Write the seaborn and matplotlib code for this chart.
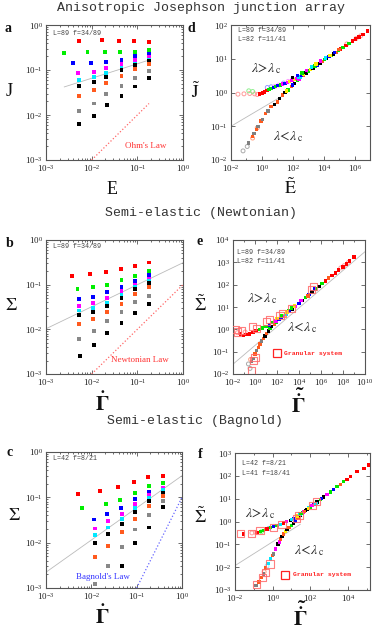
import numpy as np
import pandas as pd
import matplotlib
matplotlib.use('Agg')
import matplotlib.pyplot as plt
import seaborn as sns
from matplotlib.ticker import FixedLocator, LogFormatterSciNotation, LogLocator, NullFormatter

sns.set_style('ticks')
plt.rcParams['font.family'] = ['Liberation Serif', 'DejaVu Serif']
plt.rcParams['mathtext.fontset'] = 'stix'

# ---------------- data: panels a, b, c (9 series each) ----------------
series_colors = ['#ff0000', '#00ee00', '#0000ff', '#ff00ff', '#00e8ff',
                 '#000000', '#ff5a1e', '#888888', '#000000']

a_E = [[0.0054, 0.0166, 0.039, 0.085, 0.18],
       [0.0025, 0.0081, 0.0196, 0.042, 0.088, 0.18],
       [0.0039, 0.0097, 0.021, 0.045, 0.088, 0.18],
       [0.0051, 0.011, 0.021, 0.045, 0.088, 0.18],
       [0.0054, 0.011, 0.021, 0.045, 0.088, 0.18],
       [0.0054, 0.011, 0.021, 0.045, 0.088, 0.18],
       [0.0054, 0.011, 0.021, 0.045, 0.088, 0.18],
       [0.0054, 0.011, 0.021, 0.045, 0.088, 0.18],
       [0.0054, 0.011, 0.022, 0.045, 0.088, 0.18]]
a_J = [[0.45, 0.46, 0.45, 0.45, 0.42],
       [0.235, 0.25, 0.25, 0.256, 0.25, 0.28],
       [0.14, 0.142, 0.15, 0.168, 0.206, 0.224],
       [0.086, 0.09, 0.109, 0.133, 0.168, 0.196],
       [0.061, 0.070, 0.0875, 0.112, 0.136, 0.163],
       [0.044, 0.055, 0.071, 0.1, 0.129, 0.157],
       [0.027, 0.036, 0.052, 0.075, 0.105, 0.133],
       [0.0122, 0.018, 0.029, 0.045, 0.068, 0.097],
       [0.00625, 0.0095, 0.0163, 0.027, 0.043, 0.067]]

b_G = [[0.0037, 0.0093, 0.0207, 0.0436, 0.087, 0.176],
       [0.0049, 0.0106, 0.0214, 0.045, 0.087, 0.176],
       [0.0052, 0.0109, 0.022, 0.045, 0.087, 0.176],
       [0.0052, 0.0109, 0.022, 0.045, 0.087, 0.176],
       [0.0052, 0.0109, 0.022, 0.045, 0.087, 0.176],
       [0.0052, 0.0109, 0.022, 0.045, 0.087, 0.176],
       [0.0052, 0.0109, 0.022, 0.045, 0.087, 0.176],
       [0.0054, 0.0113, 0.022, 0.045, 0.087, 0.176],
       [0.0056, 0.0113, 0.022, 0.045, 0.087, 0.176]]
b_S = [[0.158, 0.173, 0.188, 0.227, 0.264, 0.313],
       [0.080, 0.087, 0.1, 0.129, 0.153, 0.205],
       [0.0489, 0.054, 0.0675, 0.0887, 0.123, 0.161],
       [0.034, 0.0385, 0.0497, 0.071, 0.098, 0.136],
       [0.0264, 0.0303, 0.039, 0.06, 0.09, 0.123],
       [0.0205, 0.0239, 0.033, 0.0506, 0.080, 0.109],
       [0.0129, 0.0167, 0.0243, 0.0378, 0.062, 0.087],
       [0.006, 0.0092, 0.0153, 0.0247, 0.0405, 0.057],
       [0.00255, 0.0044, 0.00815, 0.0141, 0.0227, 0.0378]]

c_G = [[0.0051, 0.0158, 0.0386, 0.087, 0.182, 0.376],
       [0.0061, 0.0207, 0.0436, 0.09, 0.185, 0.376],
       [0.0115, 0.022, 0.046, 0.09, 0.185, 0.376],
       [0.0119, 0.0235, 0.047, 0.093, 0.185, 0.376],
       [0.0119, 0.0235, 0.047, 0.093, 0.185, 0.376],
       [0.0123, 0.0235, 0.047, 0.093, 0.185, 0.376],
       [0.0123, 0.0235, 0.047, 0.093, 0.185, 0.376],
       [0.0119, 0.0235, 0.047, 0.093, 0.185, 0.376],
       [0.047, 0.093, 0.185, 0.376]]
c_S = [[0.1186, 0.138, 0.167, 0.219, 0.278, 0.298],
       [0.057, 0.0699, 0.087, 0.123, 0.179, 0.205],
       [0.0324, 0.0426, 0.057, 0.090, 0.134, 0.164],
       [0.0205, 0.0298, 0.0419, 0.071, 0.113, 0.158],
       [0.0146, 0.0216, 0.033, 0.059, 0.095, 0.146],
       [0.01, 0.0158, 0.0255, 0.048, 0.084, 0.127],
       [0.0048, 0.0084, 0.0173, 0.0336, 0.064, 0.107],
       [0.0012, 0.003, 0.008, 0.0195, 0.0405, 0.083],
       [0.003, 0.01, 0.0216, 0.06]]

# reference lines (end points)
a_fit_x, a_fit_y = [0.0025, 0.18], [0.042, 0.166]
ohm_x, ohm_y = [0.01, 0.18], [0.001, 0.018]
b_fit_x, b_fit_y = [1e-3, 1.0], [0.0103, 0.31]
newton_x, newton_y = [0.01, 1.0], [0.001, 0.1]
c_fit_x, c_fit_y = [1e-3, 1.0], [0.00223, 0.30]
bagnold_x, bagnold_y = [0.1, 1.0], [0.001, 0.1]
d_fit_x, d_fit_y = [0.01, 20], [0.1, 0.78]
e_fit_x, e_fit_y = [0.01, 1e10], [0.0275, 3000]
f_fit_x, f_fit_y = [0.01, 30], [0.0117, 0.76]

# ---------------- data: collapse panels (log10 values) ----------------
pal = {'r': '#ff0000', 'g': '#00e600', 'b': '#0000ff', 'm': '#ff00ff', 'c': '#00e8ff',
       'k': '#000000', 'o': '#ff5a1e', 'y': '#ffee00', 'gr': '#808080',
       'pr': '#ff9a9a', 'pg': '#8fef8f', 'pb': '#9a9aff', 'pm': '#ff9aff',
       'pgr': '#aaaaaa', 'po': '#ffa080', 'pc': '#90f0ff'}

d_up_lx = [-0.14, 0.05, 0.18, 0.32, 0.45, 0.6, 0.75, 0.9, 1.05, 1.2, 1.35, 1.5, 1.65, 1.8, 1.95,
           2.1, 2.25, 2.4, 2.55, 2.7, 2.85, 3.0, 3.15, 3.3, 3.45, 3.6, 3.75, 3.9, 4.05, 4.2,
           4.35, 4.5, 4.65, 4.8, 4.95, 5.1, 5.25, 5.45, 5.65, 5.85, 6.05, 6.3, 6.55, 6.85,
           2.0, 2.3, 2.6, 2.9, 3.2, 3.5, 3.8, 4.1, 4.4, 4.7, 5.0]
d_up_ly = [-0.05, -0.02, 0.02, 0.06, 0.09, 0.11, 0.14, 0.17, 0.2, 0.22, 0.25, 0.27, 0.3, 0.32, 0.35,
           0.38, 0.42, 0.46, 0.5, 0.54, 0.6, 0.64, 0.68, 0.73, 0.78, 0.82, 0.86, 0.92, 0.97, 1.01,
           1.06, 1.1, 1.14, 1.19, 1.24, 1.29, 1.34, 1.4, 1.46, 1.52, 1.58, 1.64, 1.71, 1.82,
           0.45, 0.5, 0.58, 0.66, 0.75, 0.84, 0.93, 1.02, 1.1, 1.18, 1.27]
d_up_c = ['r', 'r', 'r', 'r', 'g', 'g', 'b', 'g', 'b', 'g', 'm', 'b', 'm', 'y', 'm',
          'y', 'm', 'c', 'b', 'y', 'k', 'g', 'y', 'k', 'g', 'b', 'k', 'o', 'g', 'k',
          'b', 'g', 'k', 'o', 'g', 'r', 'g', 'r', 'g', 'r', 'r', 'r', 'r', 'r',
          'k', 'b', 'g', 'm', 'c', 'y', 'm', 'c', 'y', 'b', 'o']
d_lo_lx = [-0.85, -0.6, -0.5, -0.35, -0.25, -0.05, 0.05, 0.25, 0.4, 0.6, 0.8, 1.0, 1.15, 1.35,
           1.5, 1.7, 1.9, 2.1, 2.3, 2.5, 2.7, 2.9, 1.6, 2.0, 2.4]
d_lo_ly = [-1.5, -1.3, -1.22, -1.1, -1.0, -0.85, -0.8, -0.63, -0.55, -0.42, -0.35, -0.28, -0.18,
           -0.08, 0.0, 0.08, 0.18, 0.27, 0.36, 0.45, 0.5, 0.56, 0.05, 0.22, 0.4]
d_lo_c = ['gr', 'o', 'gr', 'o', 'gr', 'o', 'gr', 'o', 'gr', 'o', 'k', 'o', 'k', 'o',
          'k', 'g', 'o', 'k', 'g', 'c', 'o', 'k', 'y', 'b', 'm']
d_op_lx = [-1.55, -1.16, -0.79, -0.47, -0.3, -0.85, -0.6, 0.35, 0.6, 0.85, 1.1, 1.4, 1.7, 2.0,
           -1.22, -0.95, -0.6, -0.3, 5.5, 6.1, 6.4]
d_op_ly = [-0.05, -0.04, -0.03, -0.04, -0.06, 0.05, 0.03, 0.15, 0.17, 0.18, 0.22, 0.28, 0.33, 0.4,
           -1.73, -1.6, -1.35, -1.05, 1.44, 1.6, 1.68]
d_op_c = ['pr', 'pr', 'pr', 'pr', 'pr', 'pg', 'pg', 'pb', 'pb', 'pm', 'pm', 'pb', 'pm', 'pm',
          'pgr', 'pgr', 'po', 'po', 'pr', 'pr', 'pr']

e_up_lx = [-1.3, -1.06, -0.8, -0.5, -0.2, 0.1, 0.4, 0.7, 1.0, 1.3, 1.6, 1.9, 2.2, 2.5, 2.8, 3.1,
           3.4, 3.7, 4.0, 4.3, 4.6, 4.9, 5.2, 5.5, 5.8, 6.1, 6.4, 6.7, 7.0, 7.3, 7.6, 8.0, 8.3,
           8.6, 9.0, 2.0, 2.4, 2.9, 3.3, 3.6, 4.2, 4.8, 5.4]
e_up_ly = [-0.2, -0.27, -0.24, -0.2, -0.13, -0.06, 0.0, 0.06, 0.13, 0.2, 0.3, 0.38, 0.47, 0.57,
           0.68, 0.79, 0.9, 1.03, 1.16, 1.29, 1.42, 1.55, 1.67, 1.8, 1.92, 2.05, 2.17, 2.29, 2.41,
           2.52, 2.65, 2.8, 2.93, 3.06, 3.24, 0.48, 0.6, 0.78, 0.95, 1.05, 1.3, 1.5, 1.8]
e_up_c = ['r', 'r', 'r', 'r', 'r', 'r', 'g', 'g', 'g', 'b', 'g', 'm', 'b', 'm', 'c', 'b',
          'k', 'm', 'b', 'k', 'g', 'b', 'k', 'g', 'k', 'g', 'r', 'o', 'r', 'r', 'r', 'r', 'r',
          'r', 'r', 'y', 'g', 'y', 'g', 'y', 'm', 'o', 'b']
e_lo_lx = [-0.3, -0.15, 0.0, 0.15, 0.3, 0.45, 0.61, 0.76, 0.91, 1.06, 1.21, 1.36, 1.52, 1.75,
           1.97, 2.2, 2.42, 2.65, 2.88, 3.1, 3.33]
e_lo_ly = [-1.45, -1.3, -1.11, -0.95, -0.81, -0.66, -0.52, -0.41, -0.3, -0.18, -0.07, 0.03, 0.12,
           0.22, 0.33, 0.43, 0.52, 0.63, 0.74, 0.84, 0.93]
e_lo_c = ['gr', 'gr', 'o', 'gr', 'o', 'o', 'gr', 'o', 'k', 'o', 'k', 'g', 'k', 'o',
          'g', 'k', 'b', 'y', 'k', 'g', 'o']
e_op_lx = [-0.45, -0.6, -0.4, -1.6, -0.9, 7.8, 8.1, 8.5]
e_op_ly = [-1.75, -1.55, -1.35, -0.15, -0.12, 2.75, 2.85, 3.0]
e_op_c = ['pgr', 'pgr', 'po', 'pr', 'pr', 'pr', 'pr', 'pr']
e_gr_lx = [-1.82, -1.55, -1.21, -0.21, 0.1, 1.06, 1.3, 2.27, 2.5, 3.33, 5.1, 5.3, -0.35, 0.0, -0.1]
e_gr_ly = [0.0, -0.12, -0.07, 0.12, 0.05, 0.37, 0.42, 0.62, 0.7, 0.92, 1.8, 1.9, -1.85, -1.26, -1.4]

f_up_lx = [-1.54, -0.83, -0.65, -0.47, -0.3, -0.12, 0.05, 0.23, 0.4, 0.59, 0.75, 0.94, 1.1, 1.3,
           1.45, 1.65, 1.83, 2.01, 2.2, 2.36, 2.55, 2.72, 2.9, 3.07, 3.25, 3.43, 3.6, 3.78, 3.95,
           4.13, 4.49, 4.85, 5.11, 1.0, 1.5, 1.9, 2.3, 2.6, 1.7, 2.1]
f_up_ly = [-0.54, -0.47, -0.44, -0.39, -0.33, -0.27, -0.22, -0.17, -0.12, -0.07, -0.01, 0.05, 0.13,
           0.24, 0.32, 0.41, 0.52, 0.63, 0.74, 0.85, 0.97, 1.08, 1.19, 1.3, 1.41, 1.52, 1.63, 1.74,
           1.85, 1.96, 2.18, 2.33, 2.47, 0.1, 0.35, 0.58, 0.8, 1.0, 0.45, 0.7]
f_up_c = ['r', 'r', 'g', 'g', 'r', 'g', 'b', 'g', 'c', 'r', 'm', 'k', 'b', 'y', 'c', 'm', 'k',
          'g', 'b', 'k', 'g', 'k', 'm', 'g', 'b', 'g', 'o', 'g', 'r', 'r', 'r', 'r', 'r',
          'c', 'g', 'y', 'c', 'b', 'o', 'm']
f_lo_lx = [-0.88, -0.72, -0.6, -0.5, -0.39, -0.25, -0.12, 0.0, 0.06, 0.14, 0.29, 0.35, 0.41, 0.5,
           0.59, 0.68, 0.77, 0.88, 0.99, 1.1, 1.21, 1.35, 1.47, 1.6, 1.74, 1.9]
f_lo_ly = [-2.81, -2.65, -2.45, -2.3, -2.04, -1.85, -1.64, -1.5, -1.42, -1.2, -0.98, -0.9, -0.76,
           -0.65, -0.54, -0.45, -0.35, -0.26, -0.17, -0.08, 0.02, 0.15, 0.27, 0.38, 0.49, 0.6]
f_lo_c = ['gr', 'o', 'o', 'gr', 'o', 'c', 'c', 'o', 'gr', 'm', 'k', 'm', 'o', 'k', 'o', 'y',
          'k', 'o', 'g', 'k', 'b', 'o', 'k', 'g', 'k', 'c']
f_op_lx = [-1.1, -0.9, -0.6, -0.2, -0.45, -0.3]
f_op_ly = [-0.5, -0.48, -0.45, -0.3, -2.2, -1.95]
f_op_c = ['pr', 'pr', 'pg', 'pb', 'po', 'pc']
f_gr_lx = [-1.73, -1.11, -0.67, 0.04, 0.5, 1.25, 1.4, 2.1, 2.35, -0.85, -0.55, -0.40, -0.14]
f_gr_ly = [-0.54, -0.54, -0.38, -0.27, -0.15, 0.15, 0.25, 0.71, 0.89, -2.74, -2.45, -2.23, -1.86]

# ---------------- figure ----------------
W, H = 374, 634
fig = plt.figure(figsize=(W / 100, H / 100), dpi=100)
fig.patch.set_facecolor('white')


def add_ax(l, t, r, b):
    return fig.add_axes([l / W, 1 - b / H, (r - l) / W, (b - t) / H])


def ftext(px, py, s, **kw):
    fig.text(px / W, 1 - py / H, s, **kw)


def style(ax, xlim, ylim, xmaj, ymaj, xmin=None, ymin=None):
    ax.set_xlim(xlim)
    ax.set_ylim(ylim)
    ax.xaxis.set_major_locator(FixedLocator(xmaj))
    ax.yaxis.set_major_locator(FixedLocator(ymaj))
    ax.xaxis.set_major_formatter(LogFormatterSciNotation())
    ax.yaxis.set_major_formatter(LogFormatterSciNotation())
    if xmin is None:
        ax.xaxis.set_minor_locator(LogLocator(base=10, subs=np.arange(2, 10), numticks=50))
    else:
        ax.xaxis.set_minor_locator(FixedLocator(xmin))
    if ymin is None:
        ax.yaxis.set_minor_locator(LogLocator(base=10, subs=np.arange(2, 10), numticks=50))
    else:
        ax.yaxis.set_minor_locator(FixedLocator(ymin))
    ax.xaxis.set_minor_formatter(NullFormatter())
    ax.yaxis.set_minor_formatter(NullFormatter())
    ax.tick_params(which='both', direction='in', top=True, right=True, colors='#555555',
                   labelcolor='#222222', labelsize=6.5, width=0.6)
    ax.tick_params(which='major', length=3.0, pad=2.5)
    ax.tick_params(which='minor', length=1.5)
    for sp in ax.spines.values():
        sp.set_color('#555555')
        sp.set_linewidth(0.8)
    ax.set_xlabel('')
    ax.set_ylabel('')


def series_scatter(ax, xs, ys):
    rows = []
    for i, (xx, yy) in enumerate(zip(xs, ys)):
        for x, y in zip(xx, yy):
            rows.append((x, y, f's{i}'))
    df = pd.DataFrame(rows, columns=['x', 'y', 's'])
    sns.scatterplot(data=df, x='x', y='y', hue='s',
                    palette={f's{i}': c for i, c in enumerate(series_colors)},
                    marker='s', s=8, linewidth=0, legend=False, ax=ax, zorder=3)


def cscatter(ax, lx, ly, cs, marker='s', s=6.0, hollow=False, zorder=3, lw=0.0, alpha=1.0):
    df = pd.DataFrame({'x': 10 ** np.array(lx, float), 'y': 10 ** np.array(ly, float), 'c': cs})
    sns.scatterplot(data=df, x='x', y='y', hue='c', palette=pal, marker=marker, s=s,
                    linewidth=lw, legend=False, ax=ax, zorder=zorder, alpha=alpha)
    if hollow:
        coll = ax.collections[-1]
        fc = coll.get_facecolors()
        coll.set_edgecolors(fc)
        coll.set_facecolors('none')
        coll.set_linewidth(0.7)


def granular(ax, lx, ly):
    df = pd.DataFrame({'x': 10 ** np.array(lx, float), 'y': 10 ** np.array(ly, float)})
    sns.scatterplot(data=df, x='x', y='y', marker='s', s=26, ax=ax, zorder=4,
                    facecolor='none', edgecolor='#ff6a6a', linewidth=0.8, alpha=0.85, legend=False)


def refline(ax, x, y, color='#bbbbbb', ls='-', lw=0.6):
    sns.lineplot(x=x, y=y, ax=ax, color=color, linestyle=ls, linewidth=lw,
                 estimator=None, sort=False, zorder=2)


mono = ['Liberation Mono', 'DejaVu Sans Mono']

# titles
ftext(201, 8, 'Anisotropic Josephson junction array', family=mono, size=9.5,
      ha='center', va='center', color='#333333')
ftext(201, 213, 'Semi-elastic (Newtonian)', family=mono, size=9.5,
      ha='center', va='center', color='#333333')
ftext(195, 421, 'Semi-elastic (Bagnold)', family=mono, size=9.5,
      ha='center', va='center', color='#333333')

# ---------- panel a ----------
ax = add_ax(46, 25, 183, 160)
ax.set_xscale('log'); ax.set_yscale('log')
refline(ax, a_fit_x, a_fit_y)
refline(ax, ohm_x, ohm_y, color='#ff6666', ls=':', lw=0.9)
series_scatter(ax, a_E, a_J)
style(ax, (1e-3, 1), (1e-3, 1), [1e-3, 1e-2, 1e-1, 1], [1e-3, 1e-2, 1e-1, 1])
ax.text(0.05, 0.935, 'L=89 f=34/89', transform=ax.transAxes, family=mono, size=4.8,
        color='#444444', va='center')
ax.text(0.73, 0.104, "Ohm's Law", transform=ax.transAxes, size=6.5, color='#ff3333',
        ha='center', va='center')

# ---------- panel d ----------
ax = add_ax(231, 25, 370, 160)
ax.set_xscale('log'); ax.set_yscale('log')
refline(ax, d_fit_x, d_fit_y)
cscatter(ax, d_op_lx, d_op_ly, d_op_c, marker='o', s=8, hollow=True, zorder=3)
cscatter(ax, d_lo_lx, d_lo_ly, d_lo_c)
cscatter(ax, d_up_lx, d_up_ly, d_up_c)
style(ax, (1e-2, 1e7), (1e-2, 1e2), [1e-2, 1, 1e2, 1e4, 1e6], [1e-2, 1e-1, 1, 1e1, 1e2],
      xmin=[1e-1, 1e1, 1e3, 1e5], ymin=[])
ax.text(0.05, 0.962, 'L=89 f=34/89', transform=ax.transAxes, family=mono, size=4.8,
        color='#444444', va='center')
ax.text(0.05, 0.89, 'L=82 f=11/41', transform=ax.transAxes, family=mono, size=4.8,
        color='#444444', va='center')
ax.text(0.254, 0.68, r'$\lambda\!>\!\lambda_{\,\mathrm{c}}$', transform=ax.transAxes, size=10,
        ha='center', va='center')
ax.text(0.41, 0.175, r'$\lambda\!<\!\lambda_{\,\mathrm{c}}$', transform=ax.transAxes, size=10,
        ha='center', va='center')

# ---------- panel b ----------
ax = add_ax(46, 240, 183, 374)
ax.set_xscale('log'); ax.set_yscale('log')
refline(ax, b_fit_x, b_fit_y)
refline(ax, newton_x, newton_y, color='#ff6666', ls=':', lw=0.9)
series_scatter(ax, b_G, b_S)
style(ax, (1e-3, 1), (1e-3, 1), [1e-3, 1e-2, 1e-1, 1], [1e-3, 1e-2, 1e-1, 1])
ax.text(0.05, 0.95, 'L=89 f=34/89', transform=ax.transAxes, family=mono, size=4.8,
        color='#444444', va='center')
ax.text(0.686, 0.105, 'Newtonian Law', transform=ax.transAxes, size=6.5, color='#ff3333',
        ha='center', va='center')

# ---------- panel e ----------
ax = add_ax(233, 240, 365, 374)
ax.set_xscale('log'); ax.set_yscale('log')
refline(ax, e_fit_x, e_fit_y)
cscatter(ax, e_op_lx, e_op_ly, e_op_c, marker='o', s=8, hollow=True)
cscatter(ax, e_lo_lx, e_lo_ly, e_lo_c)
cscatter(ax, e_up_lx, e_up_ly, e_up_c)
granular(ax, e_gr_lx, e_gr_ly)
style(ax, (1e-2, 1e10), (1e-2, 1e4), [1e-2, 1, 1e2, 1e4, 1e6, 1e8, 1e10],
      [1e-2, 1e-1, 1, 1e1, 1e2, 1e3, 1e4], xmin=[1e-1, 1e1, 1e3, 1e5, 1e7, 1e9], ymin=[])
ax.text(0.03, 0.91, 'L=89 f=34/89', transform=ax.transAxes, family=mono, size=4.8,
        color='#444444', va='center')
ax.text(0.03, 0.836, 'L=82 f=11/41', transform=ax.transAxes, family=mono, size=4.8,
        color='#444444', va='center')
ax.text(0.217, 0.565, r'$\lambda\!>\!\lambda_{\,\mathrm{c}}$', transform=ax.transAxes, size=10,
        ha='center', va='center')
ax.text(0.52, 0.35, r'$\lambda\!<\!\lambda_{\,\mathrm{c}}$', transform=ax.transAxes, size=10,
        ha='center', va='center')
ax.plot([0.331], [0.154], marker='s', ms=5.5, mfc='none', mec='#ff2222', mew=0.9,
        transform=ax.transAxes, zorder=5)
ax.text(0.385, 0.154, 'Granular system', transform=ax.transAxes, family=mono, size=4.6,
        color='#ff2222', va='center', weight='bold')

# ---------- panel c ----------
ax = add_ax(46, 452, 182, 588)
ax.set_xscale('log'); ax.set_yscale('log')
refline(ax, c_fit_x, c_fit_y)
refline(ax, bagnold_x, bagnold_y, color='#6666ff', ls=':', lw=0.9)
series_scatter(ax, c_G, c_S)
style(ax, (1e-3, 1), (1e-3, 1), [1e-3, 1e-2, 1e-1, 1], [1e-3, 1e-2, 1e-1, 1])
ax.text(0.05, 0.95, 'L=42 f=8/21', transform=ax.transAxes, family=mono, size=4.8,
        color='#444444', va='center')
ax.text(0.42, 0.08, "Bagnold's Law", transform=ax.transAxes, size=6.5, color='#3333ff',
        ha='center', va='center')

# ---------- panel f ----------
ax = add_ax(235, 453, 370, 590)
ax.set_xscale('log'); ax.set_yscale('log')
refline(ax, f_fit_x, f_fit_y)
cscatter(ax, f_op_lx, f_op_ly, f_op_c, marker='o', s=8, hollow=True)
cscatter(ax, f_lo_lx, f_lo_ly, f_lo_c)
cscatter(ax, f_up_lx, f_up_ly, f_up_c)
granular(ax, f_gr_lx, f_gr_ly)
style(ax, (1e-2, 1.5e5), (1e-3, 1e3), [1e-2, 1, 1e2, 1e4],
      [1e-3, 1e-2, 1e-1, 1, 1e1, 1e2, 1e3], xmin=[1e-1, 1e1, 1e3, 1e5], ymin=[])
ax.text(0.05, 0.92, 'L=42 f=8/21', transform=ax.transAxes, family=mono, size=4.8,
        color='#444444', va='center')
ax.text(0.05, 0.847, 'L=41 f=18/41', transform=ax.transAxes, family=mono, size=4.8,
        color='#444444', va='center')
ax.text(0.187, 0.56, r'$\lambda\!>\!\lambda_{\,\mathrm{c}}$', transform=ax.transAxes, size=10,
        ha='center', va='center')
ax.text(0.546, 0.29, r'$\lambda\!<\!\lambda_{\,\mathrm{c}}$', transform=ax.transAxes, size=10,
        ha='center', va='center')
ax.plot([0.373], [0.11], marker='s', ms=5.5, mfc='none', mec='#ff2222', mew=0.9,
        transform=ax.transAxes, zorder=5)
ax.text(0.427, 0.11, 'Granular system', transform=ax.transAxes, family=mono, size=4.6,
        color='#ff2222', va='center', weight='bold')

# axis labels
lab = dict(size=13, ha='center', va='center', color='#111111')
gam = dict(size=15, ha='center', va='center', color='#111111')
ftext(9, 92, 'J', **lab)
ftext(112, 190, 'E', **lab)
ftext(196, 92, r'$\tilde{\mathrm{J}}$', **lab)
ftext(290, 188, r'$\tilde{\mathrm{E}}$', **lab)
ftext(11, 306, r'$\Sigma$', **lab)
ftext(102, 404, r'$\mathbf{\dot{\Gamma}}$', **gam)
ftext(200, 305, r'$\tilde{\Sigma}$', **lab)
ftext(298, 404, r'$\mathbf{\tilde{\dot{\Gamma}}}$', **gam)
ftext(14, 515, r'$\Sigma$', **lab)
ftext(102, 617, r'$\mathbf{\dot{\Gamma}}$', **gam)
ftext(200, 517, r'$\tilde{\Sigma}$', **lab)
ftext(300, 617, r'$\mathbf{\tilde{\dot{\Gamma}}}$', **gam)

# panel letters
let = dict(size=10, weight='bold', ha='center', va='center', color='#111111')
ftext(8, 28, 'a', **let)
ftext(191, 28, 'd', **let)
ftext(10, 243, 'b', **let)
ftext(200, 241, 'e', **let)
ftext(10, 453, 'c', **let)
ftext(200, 454, 'f', **let)

fig.savefig('out.png', dpi=100, facecolor='white')
